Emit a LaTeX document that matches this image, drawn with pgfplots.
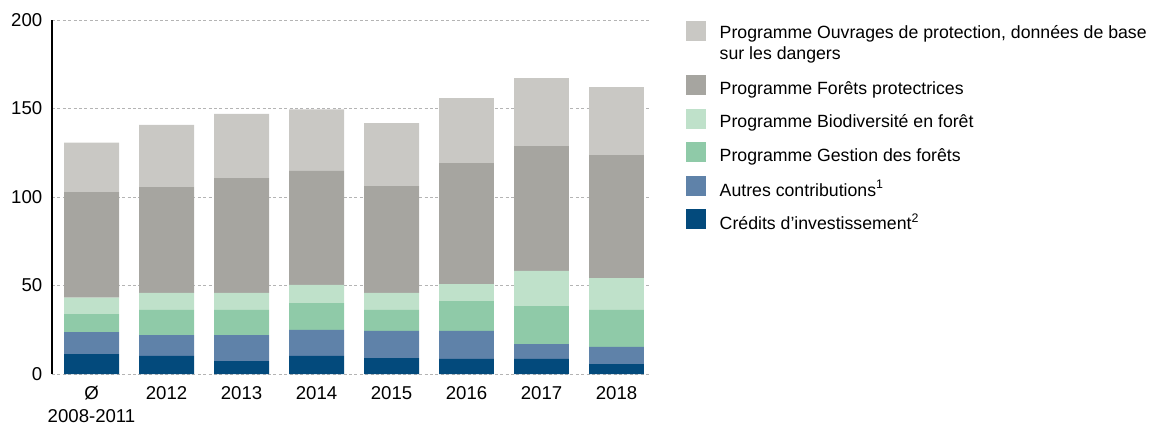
\documentclass[border=0pt]{standalone}
\usepackage{fontspec}
\setmainfont{Liberation Sans}
\usepackage{pgfplots}
\usepackage{pgfplotstable}
\pgfplotsset{compat=1.18}

\definecolor{cOuv}{HTML}{C9C8C4}
\definecolor{cFor}{HTML}{A6A5A0}
\definecolor{cBio}{HTML}{BFE1CA}
\definecolor{cGes}{HTML}{8FCAA8}
\definecolor{cAut}{HTML}{5F82A9}
\definecolor{cCre}{HTML}{034A7C}
\definecolor{grille}{HTML}{B4B4B4}

% montants par annee, du bas vers le haut de la pile
\pgfplotstableread{
x cre aut ges bio for ouv
0 11.3 12.4 10.2 9.2 59.7 27.9
1 10.2 11.8 14.2 9.7 59.9 34.9
2 7.3 14.7 14.2 9.6 64.9 36.2
3 10.2 14.7 15.2 10.2 64.4 34.8
4 9.0 15.3 11.9 9.6 60.4 35.6
5 8.5 15.8 16.9 9.6 68.4 36.7
6 8.5 8.4 21.5 19.8 70.6 38.4
7 5.6 9.7 20.9 18.0 69.5 38.4
}\budget

\begin{document}
\begin{tikzpicture}
\begin{axis}[
    at={(26pt,25.5pt)}, anchor=south west,
    scale only axis,
    width=299.5pt, height=177pt,
    xmin=-0.527, xmax=7.46,
    ymin=0, ymax=200,
    ybar stacked,
    bar width=0.733,
    axis lines=left,
    x axis line style={draw=none},
    y axis line style={-, black, line width=0.75pt},
    xtick={0,...,7},
    xticklabels={{Ø\\2008-2011},2012,2013,2014,2015,2016,2017,2018},
    ytick={0,50,100,150,200},
    major tick length=0pt,
    ymajorgrids,
    grid style={grille, line width=0.5pt, dash pattern=on 1.5pt off 1.2pt},
    /pgf/number format/assume math mode=true,
    tick label style={font=\fontsize{9.3}{11.5}\selectfont},
    y tick label style={anchor=east, inner sep=0pt, xshift=-4.7pt},
    x tick label style={anchor=north, inner sep=0pt, yshift=-6pt, align=center},
    legend style={at={(1.058,1.0153)}, anchor=north west, draw=none, fill=none,
        inner sep=0pt, outer sep=0pt, row sep=1.75pt, column sep=7pt,
        font=\fontsize{8.85}{10.5}\selectfont,
        nodes={inner sep=0pt}},
    legend cell align=left,
    reverse legend,
    legend image code/.code={\fill[#1] (0pt,-3.2pt) rectangle (10pt,6.8pt);
        \path (0pt,-5pt) (0pt,10pt);},
]
\addplot[fill=cCre, draw=none] table[x=x, y=cre] {\budget};
\addlegendentry{Crédits d’investissement\textsuperscript{2}}
\addplot[fill=cAut, draw=none] table[x=x, y=aut] {\budget};
\addlegendentry{Autres contributions\textsuperscript{1}}
\addplot[fill=cGes, draw=none] table[x=x, y=ges] {\budget};
\addlegendentry{Programme Gestion des forêts}
\addplot[fill=cBio, draw=none] table[x=x, y=bio] {\budget};
\addlegendentry{Programme Biodiversité en forêt}
\addplot[fill=cFor, draw=none] table[x=x, y=for] {\budget};
\addlegendentry{Programme Forêts protectrices}
\addplot[fill=cOuv, draw=none,
    legend image code/.code={\fill[cOuv] (0pt,-3.2pt) rectangle (10pt,6.8pt);
        \path (0pt,-15.5pt) (0pt,10pt);}] table[x=x, y=ouv] {\budget};
\addlegendentry{\raisebox{1.5pt}{\parbox[t]{230pt}{Programme Ouvrages de protection, données de base\\sur les dangers}}}
\end{axis}
\pgfresetboundingbox
\useasboundingbox (0,0) rectangle (576pt,212.5pt);
\end{tikzpicture}
\end{document}
